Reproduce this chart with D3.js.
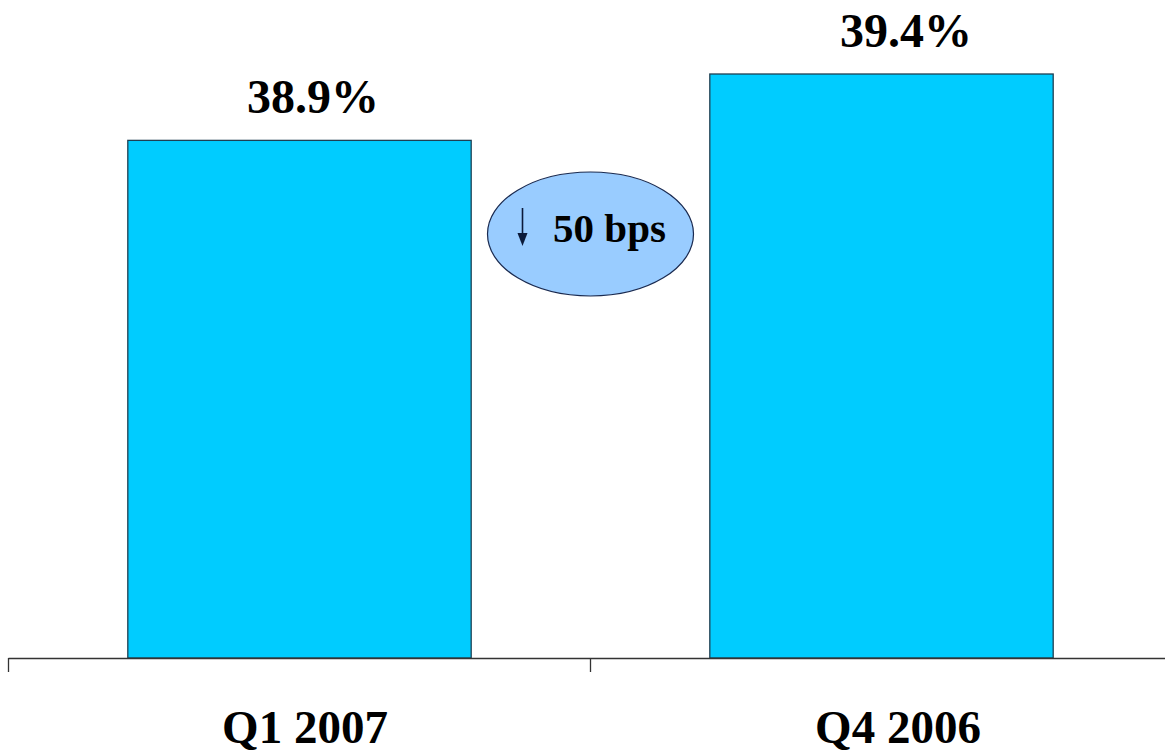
<!DOCTYPE html>
<html>
<head>
<meta charset="utf-8">
<script src="https://cdn.jsdelivr.net/npm/d3@7"></script>
<style>
  html, body { margin: 0; padding: 0; background: #ffffff; }
  svg { display: block; }
  text { font-family: "Liberation Serif", "Times New Roman", serif; font-weight: bold; fill: #000; }
</style>
</head>
<body>
<svg id="chart" width="1165" height="755"></svg>
<script>
// Gross margin by quarter
const categories = ["Q1 2007", "Q4 2006"];
const values = [38.9, 39.4];
const valueLabels = ["38.9%", "39.4%"];
const changeLabel = "50 bps";

const W = 1165, H = 755;
const baseline = 658;

const svg = d3.select("#chart");

const x = d3.scaleBand()
  .domain(categories)
  .range([8.5, 1172.5])
  .paddingInner(0.41)
  .paddingOuter(0.205);

// labels sit slightly right of the bar centres
const labelX = d3.scalePoint().domain(categories).range([305, 898]);

const y = d3.scaleLinear()
  .domain([35, 39.4])
  .range([baseline, 74]);

// bars
svg.append("g").selectAll("rect")
  .data(categories)
  .join("rect")
  .attr("x", d => x(d))
  .attr("y", (d, i) => y(values[i]))
  .attr("width", x.bandwidth())
  .attr("height", (d, i) => baseline - y(values[i]))
  .attr("fill", "#00ccff")
  .attr("stroke", "#1f3f52")
  .attr("stroke-width", 1.3);

// category axis: ticks at band boundaries
const axisG = svg.append("g").attr("stroke", "#333").attr("stroke-width", 1.3);
axisG.append("line")
  .attr("x1", x.range()[0]).attr("x2", x.range()[1])
  .attr("y1", baseline + 0.5).attr("y2", baseline + 0.5);
const boundaries = categories.map(d => x(d) - x.step() * x.paddingInner() / 2)
  .concat([x.range()[1]]);
boundaries[0] = x.range()[0];
axisG.selectAll("line.tick")
  .data(boundaries)
  .join("line")
  .attr("class", "tick")
  .attr("x1", d => d).attr("x2", d => d)
  .attr("y1", baseline).attr("y2", baseline + 14);

// category labels
svg.append("g").selectAll("text")
  .data(categories)
  .join("text")
  .attr("x", d => labelX(d))
  .attr("y", 743)
  .attr("text-anchor", "middle")
  .attr("font-size", 47)
  .text(d => d);

// value labels
svg.append("g").selectAll("text")
  .data(categories)
  .join("text")
  .attr("x", d => labelX(d) + 8)
  .attr("y", (d, i) => y(values[i]) - 27)
  .attr("text-anchor", "middle")
  .attr("font-size", 48)
  .text((d, i) => valueLabels[i]);

// change callout between the bars
const cx = (x(categories[0]) + x.bandwidth() + x(categories[1])) / 2;
const cy = 234;
const callout = svg.append("g");
callout.append("ellipse")
  .attr("cx", cx).attr("cy", cy)
  .attr("rx", 103).attr("ry", 62)
  .attr("fill", "#99ccff")
  .attr("stroke", "#1a2a50")
  .attr("stroke-width", 1.2);

// down arrow
callout.append("line")
  .attr("x1", cx - 68).attr("x2", cx - 68)
  .attr("y1", cy - 26).attr("y2", cy + 4)
  .attr("stroke", "#0b1a3a")
  .attr("stroke-width", 1.6);
callout.append("path")
  .attr("d", `M${cx - 73},${cy - 1} L${cx - 63},${cy - 1} L${cx - 68},${cy + 12} Z`)
  .attr("fill", "#0b1a3a");

callout.append("text")
  .attr("x", cx + 19)
  .attr("y", cy + 8)
  .attr("text-anchor", "middle")
  .attr("font-size", 41)
  .text(changeLabel);
</script>
</body>
</html>
